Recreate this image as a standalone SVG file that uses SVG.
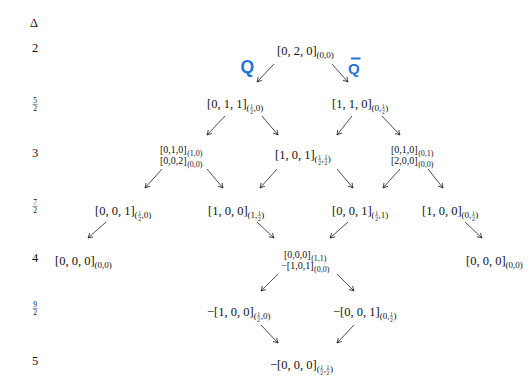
<svg xmlns="http://www.w3.org/2000/svg" width="531" height="388" viewBox="0 0 531 388">
  <style>
    text { font-family: "Liberation Serif", "DejaVu Serif", serif; fill: #111; }
    .m { font-size: 12.5px; }
    .s { font-size: 9px; }
    .f { font-size: 5.5px; text-anchor: middle; }
    .sm { font-size: 10px; }
    .ss { font-size: 8px; }
    .lf { font-size: 7.5px; text-anchor: middle; }
    .bar { stroke: #111; stroke-width: 0.45; }
    .arrow { stroke: #222; stroke-width: 0.8; fill: none; marker-end: url(#head); }
    .hand { font-family: "Liberation Sans", "DejaVu Sans", sans-serif; font-weight: bold; fill: #1e74d9; }
  </style>
  <defs>
    <marker id="head" markerUnits="userSpaceOnUse" markerWidth="10" markerHeight="10" viewBox="-6 -5 8 10" refX="0" refY="0" orient="auto">
      <path d="M-4.5,-2.6 Q-1.6,-0.6 0,0 Q-1.6,0.6 -4.5,2.6" stroke="#222" stroke-width="0.8" fill="none"/>
    </marker>
  </defs>
  <rect width="531" height="388" fill="#fff"/>

  <!-- Delta axis labels -->
  <g id="axis">
    <text class="m" x="30" y="27">Δ</text>
    <text class="m" x="32" y="52">2</text>
    <text class="lf" x="35" y="103">5</text>
    <line class="bar" x1="32.5" y1="104.4" x2="37.5" y2="104.4"/>
    <text class="lf" x="35" y="110.5">2</text>
    <text class="m" x="32" y="157">3</text>
    <text class="lf" x="35" y="205">7</text>
    <line class="bar" x1="32.5" y1="206.4" x2="37.5" y2="206.4"/>
    <text class="lf" x="35" y="212.5">2</text>
    <text class="m" x="32" y="262">4</text>
    <text class="lf" x="35" y="307">9</text>
    <line class="bar" x1="32.5" y1="308.4" x2="37.5" y2="308.4"/>
    <text class="lf" x="35" y="314.5">2</text>
    <text class="m" x="32" y="365">5</text>
  </g>

  <!-- handwritten charge labels -->
  <g id="labels">
    <text class="hand" x="240.5" y="73" font-size="17.5">Q</text>
    <text class="hand" x="348" y="73.5" font-size="15">Q</text>
    <line x1="351" y1="58.5" x2="360.5" y2="58.5" stroke="#1e74d9" stroke-width="2"/>
  </g>

  <!-- row Δ=2 -->
  <g id="n020">
    <text class="m" x="277" y="55">[0, 2, 0]</text>
    <text class="s" x="316.6" y="58">(0,0)</text>
  </g>

  <!-- row Δ=5/2 -->
  <g id="n011">
    <text class="m" x="207" y="108">[0, 1, 1]</text>
    <text class="s" x="246.6" y="111">(</text>
    <text class="f" x="251.6" y="108">1</text>
    <line class="bar" x1="249.9" y1="108.8" x2="253.3" y2="108.8"/>
    <text class="f" x="251.6" y="113.5">2</text>
    <text class="s" x="253.6" y="111">,0)</text>
  </g>
  <g id="n110">
    <text class="m" x="332" y="108">[1, 1, 0]</text>
    <text class="s" x="371.6" y="111">(0,</text>
    <text class="f" x="383.35" y="108">1</text>
    <line class="bar" x1="381.65" y1="108.8" x2="385.05" y2="108.8"/>
    <text class="f" x="383.35" y="113.5">2</text>
    <text class="s" x="385.35" y="111">)</text>
  </g>

  <!-- row Δ=3 -->
  <g id="n010-002">
    <text class="sm" x="160" y="153">[0,1,0]</text>
    <text class="ss" x="187.2" y="155.5">(1,0)</text>
    <text class="sm" x="160" y="164">[0,0,2]</text>
    <text class="ss" x="187.2" y="166.5">(0,0)</text>
  </g>
  <g id="n101">
    <text class="m" x="275" y="159">[1, 0, 1]</text>
    <text class="s" x="314.6" y="162">(</text>
    <text class="f" x="319.6" y="159">1</text>
    <line class="bar" x1="317.9" y1="159.8" x2="321.3" y2="159.8"/>
    <text class="f" x="319.6" y="164.5">2</text>
    <text class="s" x="321.6" y="162">,</text>
    <text class="f" x="325.85" y="159">1</text>
    <line class="bar" x1="324.15" y1="159.8" x2="327.55" y2="159.8"/>
    <text class="f" x="325.85" y="164.5">2</text>
    <text class="s" x="327.85" y="162">)</text>
  </g>
  <g id="n010-200">
    <text class="sm" x="391" y="153">[0,1,0]</text>
    <text class="ss" x="418.2" y="155.5">(0,1)</text>
    <text class="sm" x="391" y="164">[2,0,0]</text>
    <text class="ss" x="418.2" y="166.5">(0,0)</text>
  </g>

  <!-- row Δ=7/2 -->
  <g id="n001a">
    <text class="m" x="95" y="215">[0, 0, 1]</text>
    <text class="s" x="134.6" y="218">(</text>
    <text class="f" x="139.6" y="215">1</text>
    <line class="bar" x1="137.9" y1="215.8" x2="141.3" y2="215.8"/>
    <text class="f" x="139.6" y="220.5">2</text>
    <text class="s" x="141.6" y="218">,0)</text>
  </g>
  <g id="n100a">
    <text class="m" x="208" y="215">[1, 0, 0]</text>
    <text class="s" x="247.6" y="218">(1,</text>
    <text class="f" x="259.35" y="215">1</text>
    <line class="bar" x1="257.65" y1="215.8" x2="261.05" y2="215.8"/>
    <text class="f" x="259.35" y="220.5">2</text>
    <text class="s" x="261.35" y="218">)</text>
  </g>
  <g id="n001b">
    <text class="m" x="332" y="215">[0, 0, 1]</text>
    <text class="s" x="371.6" y="218">(</text>
    <text class="f" x="376.6" y="215">1</text>
    <line class="bar" x1="374.9" y1="215.8" x2="378.3" y2="215.8"/>
    <text class="f" x="376.6" y="220.5">2</text>
    <text class="s" x="378.6" y="218">,1)</text>
  </g>
  <g id="n100b">
    <text class="m" x="422" y="215">[1, 0, 0]</text>
    <text class="s" x="461.6" y="218">(0,</text>
    <text class="f" x="473.35" y="215">1</text>
    <line class="bar" x1="471.65" y1="215.8" x2="475.05" y2="215.8"/>
    <text class="f" x="473.35" y="220.5">2</text>
    <text class="s" x="475.35" y="218">)</text>
  </g>

  <!-- row Δ=4 -->
  <g id="n000a">
    <text class="m" x="55" y="265">[0, 0, 0]</text>
    <text class="s" x="94.6" y="268">(0,0)</text>
  </g>
  <g id="n000-101">
    <text class="sm" x="284" y="258">[0,0,0]</text>
    <text class="ss" x="311.2" y="260.5">(1,1)</text>
    <text class="sm" x="281.2" y="269">−[1,0,1]</text>
    <text class="ss" x="314" y="271.5">(0,0)</text>
  </g>
  <g id="n000b">
    <text class="m" x="466" y="265">[0, 0, 0]</text>
    <text class="s" x="505.6" y="268">(0,0)</text>
  </g>

  <!-- row Δ=9/2 -->
  <g id="nm100">
    <text class="m" x="207" y="316">−[1, 0, 0]</text>
    <text class="s" x="253.65" y="319">(</text>
    <text class="f" x="258.65" y="316">1</text>
    <line class="bar" x1="256.95" y1="316.8" x2="260.35" y2="316.8"/>
    <text class="f" x="258.65" y="321.5">2</text>
    <text class="s" x="260.65" y="319">,0)</text>
  </g>
  <g id="nm001">
    <text class="m" x="333" y="316">−[0, 0, 1]</text>
    <text class="s" x="379.65" y="319">(0,</text>
    <text class="f" x="391.4" y="316">1</text>
    <line class="bar" x1="389.7" y1="316.8" x2="393.1" y2="316.8"/>
    <text class="f" x="391.4" y="321.5">2</text>
    <text class="s" x="393.4" y="319">)</text>
  </g>

  <!-- row Δ=5 -->
  <g id="nm000">
    <text class="m" x="270" y="369">−[0, 0, 0]</text>
    <text class="s" x="316.65" y="372">(</text>
    <text class="f" x="321.65" y="369">1</text>
    <line class="bar" x1="319.95" y1="369.8" x2="323.35" y2="369.8"/>
    <text class="f" x="321.65" y="374.5">2</text>
    <text class="s" x="323.65" y="372">,</text>
    <text class="f" x="327.9" y="369">1</text>
    <line class="bar" x1="326.2" y1="369.8" x2="329.6" y2="369.8"/>
    <text class="f" x="327.9" y="374.5">2</text>
    <text class="s" x="329.9" y="372">)</text>
  </g>

  <!-- connectors -->
  <g id="connectors">
    <line class="arrow" x1="274" y1="64" x2="257" y2="82"/>
    <line class="arrow" x1="332" y1="64" x2="348" y2="82"/>

    <line class="arrow" x1="225" y1="116" x2="207" y2="135"/>
    <line class="arrow" x1="262" y1="116" x2="278" y2="135"/>
    <line class="arrow" x1="352" y1="116" x2="337" y2="135"/>
    <line class="arrow" x1="382" y1="116" x2="400" y2="135"/>

    <line class="arrow" x1="162" y1="169" x2="145" y2="188"/>
    <line class="arrow" x1="207" y1="169" x2="223" y2="188"/>
    <line class="arrow" x1="277" y1="169" x2="260" y2="188"/>
    <line class="arrow" x1="337" y1="169" x2="353" y2="188"/>
    <line class="arrow" x1="400" y1="169" x2="383" y2="188"/>
    <line class="arrow" x1="428" y1="169" x2="443" y2="188"/>

    <line class="arrow" x1="106" y1="222" x2="88" y2="238"/>
    <line class="arrow" x1="257" y1="222" x2="274" y2="238"/>
    <line class="arrow" x1="348" y1="222" x2="330" y2="238"/>
    <line class="arrow" x1="465" y1="222" x2="482" y2="238"/>

    <line class="arrow" x1="278" y1="274" x2="261" y2="291"/>
    <line class="arrow" x1="337" y1="274" x2="354" y2="291"/>

    <line class="arrow" x1="261" y1="325" x2="278" y2="343"/>
    <line class="arrow" x1="354" y1="325" x2="337" y2="343"/>
  </g>
</svg>
